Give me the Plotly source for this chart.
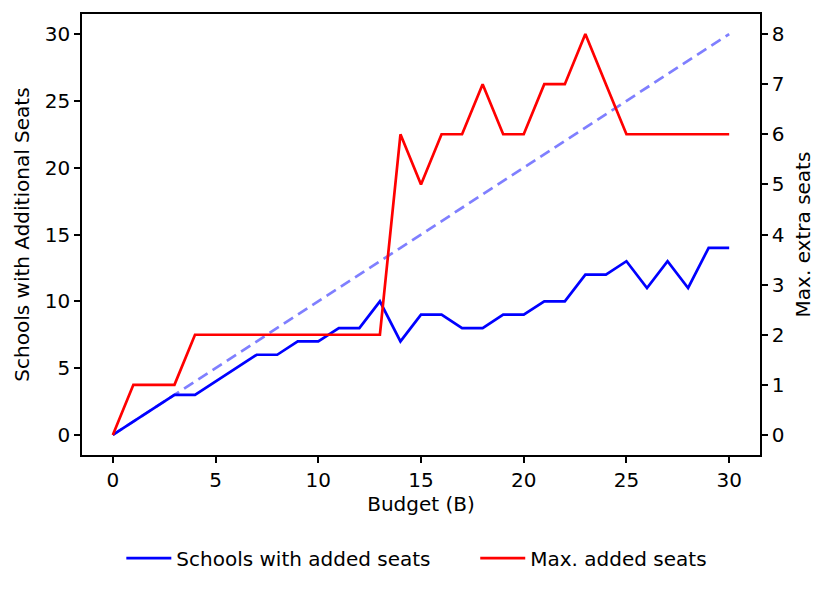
import plotly.graph_objects as go

budget = list(range(0, 31))
schools_added = [0, 1, 2, 3, 3, 4, 5, 6, 6, 7, 7, 8, 8, 10, 7, 9, 9, 8, 8, 9, 9, 10, 10, 12, 12, 13, 11, 13, 11, 14, 14]
max_added = [0, 1, 1, 1, 2, 2, 2, 2, 2, 2, 2, 2, 2, 2, 6, 5, 6, 6, 7, 6, 6, 7, 7, 8, 7, 6, 6, 6, 6, 6, 6]
reference_line = [0, 1, 2, 3, 4, 5, 6, 7, 8, 9, 10, 11, 12, 13, 14, 15, 16, 17, 18, 19, 20,
                  21, 22, 23, 24, 25, 26, 27, 28, 29, 30]

FONT = "DejaVu Sans"
FS = 20

fig = go.Figure()
fig.add_trace(go.Scatter(x=budget, y=reference_line, mode="lines",
                         line=dict(color="rgba(0,0,255,0.5)", width=2.7, dash="11px,6px"),
                         showlegend=False, yaxis="y"))
fig.add_trace(go.Scatter(x=budget, y=schools_added, mode="lines",
                         line=dict(color="#0000ff", width=2.7),
                         name="Schools with added seats", yaxis="y", legend="legend"))
fig.add_trace(go.Scatter(x=budget, y=max_added, mode="lines",
                         line=dict(color="#ff0000", width=2.7),
                         name="Max. added seats", yaxis="y2", legend="legend2"))

axis_common = dict(showline=True, linecolor="black", linewidth=1.5, ticks="outside",
                   ticklen=6, tickwidth=1.5, tickcolor="black", showgrid=False, zeroline=False,
                   automargin=False,
                   tickfont=dict(family=FONT, size=FS, color="black"))

legend_common = dict(orientation="h", y=-0.234, yanchor="middle", xanchor="left",
                     font=dict(family=FONT, size=FS, color="black"), bgcolor="rgba(0,0,0,0)",
                     itemwidth=45)

fig.update_layout(
    width=830, height=592,
    margin=dict(l=74, r=78, t=6, b=145),
    paper_bgcolor="white", plot_bgcolor="white",
    font=dict(family=FONT, size=FS, color="black"),
    xaxis=dict(range=[-1.5, 31.5], tickvals=[0, 5, 10, 15, 20, 25, 30], mirror=True,
               title=dict(text="Budget (B)", standoff=6, font=dict(family=FONT, size=FS)),
               **axis_common),
    yaxis=dict(range=[-1.5, 31.5], tickvals=[0, 5, 10, 15, 20, 25, 30],
               title=dict(text="Schools with Additional Seats", standoff=10, font=dict(family=FONT, size=FS)),
               **axis_common),
    yaxis2=dict(range=[-0.4, 8.4], tickvals=[0, 1, 2, 3, 4, 5, 6, 7, 8], overlaying="y", side="right",
                title=dict(text="Max. extra seats", standoff=13, font=dict(family=FONT, size=FS)),
                **axis_common),
    legend=dict(x=0.058, **legend_common),
    legend2=dict(x=0.58, **legend_common),
)

fig.write_html("out.html")
